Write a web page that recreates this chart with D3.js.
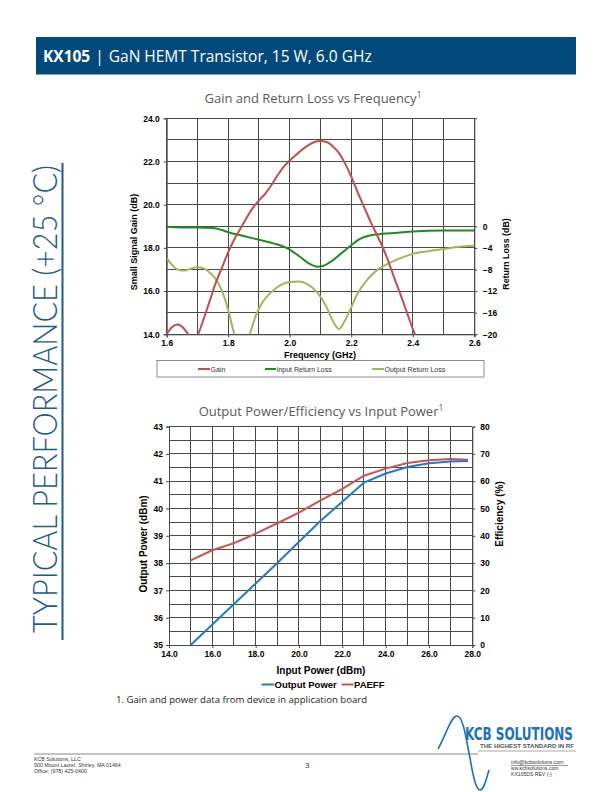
<!DOCTYPE html>
<html><head><meta charset="utf-8">
<script src="https://cdn.jsdelivr.net/npm/d3@7"></script>
<style>body{margin:0;background:#fff}svg{display:block}</style>
</head><body><svg id="c" width="612" height="792"></svg>
<script>
// ---------- Chart 1 data ----------
const gainFreq = [1.60,1.615,1.635,1.65,1.67,1.685,1.70,1.72,1.74,1.76,1.78,1.80,1.82,1.84,1.86,1.88,1.90,1.92,1.94,1.96,1.98,2.00,2.02,2.04,2.06,2.08,2.10,2.12,2.14,2.16,2.18,2.20,2.22,2.24,2.26,2.28,2.30,2.32,2.34,2.36,2.38,2.40,2.41];
const gainDb   = [14.0,14.3,14.45,14.35,14.0,13.7,13.95,14.7,15.55,16.4,17.1,17.8,18.4,18.9,19.4,19.85,20.2,20.5,20.9,21.35,21.75,22.05,22.3,22.55,22.75,22.9,22.95,22.9,22.7,22.4,21.9,21.3,20.6,19.95,19.3,18.7,18.1,17.4,16.6,15.85,15.05,14.25,13.9];
const irlFreq = [1.60,1.65,1.70,1.75,1.78,1.80,1.85,1.90,1.95,2.00,2.03,2.06,2.09,2.11,2.14,2.17,2.20,2.23,2.26,2.30,2.35,2.40,2.50,2.60];
const irlDb   = [-0.1,-0.2,-0.2,-0.3,-0.7,-1.1,-1.8,-2.5,-3.2,-4.3,-5.5,-6.8,-7.5,-7.3,-6.3,-4.9,-3.5,-2.3,-1.7,-1.4,-1.2,-0.95,-0.8,-0.8];
const orlFreq = [1.60,1.62,1.64,1.66,1.68,1.70,1.72,1.74,1.76,1.78,1.80,1.82,1.845,1.87,1.89,1.91,1.94,1.97,2.00,2.03,2.06,2.09,2.12,2.14,2.16,2.18,2.20,2.22,2.25,2.28,2.32,2.36,2.40,2.45,2.50,2.55,2.60];
const orlDb   = [-5.9,-7.3,-8.1,-8.2,-7.8,-7.6,-7.8,-8.6,-9.8,-12.0,-15.5,-20.0,-24.0,-20.0,-16.5,-14.2,-12.2,-10.9,-10.3,-10.2,-10.8,-12.3,-15.0,-17.5,-19.0,-17.4,-15.0,-12.5,-10.0,-8.3,-6.9,-5.9,-5.1,-4.6,-4.2,-3.8,-3.6];
const freqTicks = [1.6,1.8,2.0,2.2,2.4,2.6];
const gainTicks = [14,16,18,20,22,24];
const rlTicks = [-20,-16,-12,-8,-4,0];
const legend1 = ["Gain","Input Return Loss","Output Return Loss"];

// ---------- Chart 2 data ----------
const pin  = [15,16,17,17.5,18,19,20,21,22,23,24,25,26,27,27.8];
const pout = [35.0,35.75,36.5,36.88,37.25,38.0,38.78,39.55,40.25,40.95,41.28,41.52,41.66,41.72,41.74];
const pae  = [31.0,34.7,37.3,39.0,40.8,44.6,48.5,53.0,57.2,62.0,64.6,66.7,67.7,68.1,67.9];
const pinTicks = [14,16,18,20,22,24,26,28];
const poutTicks = [35,36,37,38,39,40,41,42,43];
const effTicks = [0,10,20,30,40,50,60,70,80];
const legend2 = ["Output Power","PAEFF"];

const svg = d3.select("#c");
const GRID = "#4a4a4a";
const AR = "Arial, 'Liberation Sans', sans-serif";
const CAL = "'Open Sans', sans-serif";

// ---------- Header ----------
svg.append("rect").attr("x",36).attr("y",37).attr("width",540).attr("height",37.5).attr("fill","#03497c");
const ht = svg.append("text").attr("x",43).attr("y",61.5).attr("fill","#fff").attr("font-family",CAL).attr("font-size",15.5);
ht.append("tspan").attr("font-weight","bold").text("KX105");
ht.append("tspan").attr("dx",5).text("|");
ht.append("tspan").attr("dx",5).text("GaN HEMT Transistor, 15 W, 6.0 GHz");

// ---------- Side title ----------
svg.append("text").attr("transform","translate(57,633) rotate(-90)")
  .attr("font-family","Lato, 'Open Sans', sans-serif").attr("font-weight",300).attr("font-size",33)
  .attr("fill","#1f5a8e").attr("textLength",468).attr("lengthAdjust","spacingAndGlyphs")
  .text("TYPICAL PERFORMANCE (+25 °C)");
svg.append("line").attr("x1",62.5).attr("x2",62.5).attr("y1",163).attr("y2",640).attr("stroke","#1f5a8e").attr("stroke-width",2);

function title(x, y, txt){
  const t = svg.append("text").attr("x",x).attr("y",y).attr("text-anchor","middle")
    .attr("font-family",CAL).attr("font-size",13).attr("fill","#595959");
  t.append("tspan").text(txt);
  t.append("tspan").attr("font-size",8.5).attr("dy",-5).text("1");
}

function gridAndFrame(x, y, xs, ys){
  const g = svg.append("g");
  const [x0,x1] = x.range(), [y0,y1] = y.range();
  g.append("rect").attr("x",x0).attr("y",y1).attr("width",x1-x0).attr("height",y0-y1).attr("fill","#fff");
  g.selectAll(".vx").data(xs).join("line").attr("x1",d=>x(d)).attr("x2",d=>x(d)).attr("y1",y0).attr("y2",y1)
    .attr("stroke",GRID).attr("stroke-width",1).attr("shape-rendering","crispEdges");
  g.selectAll(".hy").data(ys).join("line").attr("y1",d=>y(d)).attr("y2",d=>y(d)).attr("x1",x0).attr("x2",x1)
    .attr("stroke",GRID).attr("stroke-width",1).attr("shape-rendering","crispEdges");
  return g;
}

function styleAxis(g, size){
  g.selectAll("text").attr("font-family",AR).attr("font-weight","bold").attr("font-size",size).attr("fill","#000");
  g.select(".domain").attr("stroke",GRID);
  g.selectAll(".tick line").attr("stroke",GRID);
}

// ---------- Chart 1 ----------
title(313, 103, "Gain and Return Loss vs Frequency");
const x1 = d3.scaleLinear([1.6,2.6],[166.7,474.3]);
const y1 = d3.scaleLinear([14,24],[334.3,118.3]);
const y1r = d3.scaleLinear([-20,20],[334.3,118.3]);
gridAndFrame(x1, y1, d3.range(0,11).map(i=>1.6+i*0.1), d3.range(14,25));

svg.append("g").attr("transform",`translate(0,${y1(14)})`)
  .call(d3.axisBottom(x1).tickValues(freqTicks).tickFormat(d3.format(".1f")).tickSize(3).tickPadding(3))
  .call(g=>styleAxis(g,8.5));
svg.append("g").attr("transform",`translate(${x1(1.6)},0)`)
  .call(d3.axisLeft(y1).tickValues(gainTicks).tickFormat(d3.format(".1f")).tickSize(3).tickPadding(4))
  .call(g=>styleAxis(g,8.5));
svg.append("g").attr("transform",`translate(${x1(2.6)},0)`)
  .call(d3.axisRight(y1r).tickValues(rlTicks).tickFormat(d3.format("d")).tickSize(3).tickPadding(5))
  .call(g=>styleAxis(g,8.5))
  .call(g=>g.selectAll(".tick text").attr("x",8.5).attr("text-anchor","start"));

svg.append("text").attr("x",320).attr("y",357.5).attr("text-anchor","middle")
  .attr("font-family",AR).attr("font-weight","bold").attr("font-size",9).text("Frequency (GHz)");
svg.append("text").attr("transform",`translate(137,242) rotate(-90)`).attr("text-anchor","middle")
  .attr("font-family",AR).attr("font-weight","bold").attr("font-size",9).text("Small Signal Gain (dB)");
svg.append("text").attr("transform",`translate(509,254) rotate(-90)`).attr("text-anchor","middle")
  .attr("font-family",AR).attr("font-weight","bold").attr("font-size",8.8).text("Return Loss (dB)");

svg.append("clipPath").attr("id","clip1").append("rect")
  .attr("x",x1(1.6)).attr("y",y1(24)).attr("width",x1(2.6)-x1(1.6)).attr("height",y1(14)-y1(24));
const c1 = svg.append("g").attr("clip-path","url(#clip1)");
const COL_GAIN = "#c0504d", COL_IRL = "#1f8a24", COL_ORL = "#9bbb59";
const line1 = (xs, ys, yS) => d3.line().x((d,i)=>x1(xs[i])).y((d,i)=>yS(ys[i])).curve(d3.curveMonotoneX)(ys);
c1.append("path").attr("d",line1(orlFreq,orlDb,y1r)).attr("fill","none").attr("stroke",COL_ORL).attr("stroke-width",2);
c1.append("path").attr("d",line1(irlFreq,irlDb,y1r)).attr("fill","none").attr("stroke",COL_IRL).attr("stroke-width",2);
c1.append("path").attr("d",line1(gainFreq,gainDb,y1)).attr("fill","none").attr("stroke",COL_GAIN).attr("stroke-width",2);

// legend 1
svg.append("rect").attr("x",157).attr("y",360.5).attr("width",327).attr("height",16.5)
  .attr("fill","#fff").attr("stroke","#8c8c8c").attr("stroke-width",1);
const lg1 = [{x:198,w:12,c:COL_GAIN},{x:265,w:11,c:COL_IRL},{x:372,w:12,c:COL_ORL}];
legend1.forEach((t,i)=>{
  const L = lg1[i];
  svg.append("line").attr("x1",L.x).attr("x2",L.x+L.w).attr("y1",369).attr("y2",369).attr("stroke",L.c).attr("stroke-width",2);
  svg.append("text").attr("x",L.x+L.w+0.5).attr("y",371.5).attr("font-family",AR).attr("font-size",7).attr("fill","#333").text(t);
});

// ---------- Chart 2 ----------
title(321, 416, "Output Power/Efficiency vs Input Power");
const x2 = d3.scaleLinear([14,28],[169,472.3]);
const y2 = d3.scaleLinear([35,43],[645,426.6]);
const y2r = d3.scaleLinear([0,80],[645,426.6]);
gridAndFrame(x2, y2, d3.range(14,29), d3.range(0,17).map(i=>35+i*0.5));

svg.append("g").attr("transform",`translate(0,${y2(35)})`)
  .call(d3.axisBottom(x2).tickValues(pinTicks).tickFormat(d3.format(".1f")).tickSize(3).tickPadding(3))
  .call(g=>styleAxis(g,8.5));
svg.append("g").attr("transform",`translate(${x2(14)},0)`)
  .call(d3.axisLeft(y2).tickValues(poutTicks).tickFormat(d3.format("d")).tickSize(3).tickPadding(3))
  .call(g=>styleAxis(g,8.5));
svg.append("g").attr("transform",`translate(${x2(28)},0)`)
  .call(d3.axisRight(y2r).tickValues(effTicks).tickFormat(d3.format("d")).tickSize(3).tickPadding(5))
  .call(g=>styleAxis(g,8.5))
  .call(g=>g.selectAll(".tick text").attr("x",8).attr("text-anchor","start"));

svg.append("text").attr("x",321).attr("y",674).attr("text-anchor","middle")
  .attr("font-family",AR).attr("font-weight","bold").attr("font-size",10).text("Input Power (dBm)");
svg.append("text").attr("transform",`translate(146.5,544) rotate(-90)`).attr("text-anchor","middle")
  .attr("font-family",AR).attr("font-weight","bold").attr("font-size",10).text("Output Power (dBm)");
svg.append("text").attr("transform",`translate(503,514) rotate(-90)`).attr("text-anchor","middle")
  .attr("font-family",AR).attr("font-weight","bold").attr("font-size",10).text("Efficiency (%)");

const COL_POUT = "#1f7acb", COL_PAE = "#c9544f";
const line2 = (ys, yS) => d3.line().x((d,i)=>x2(pin[i])).y(d=>yS(d))(ys);
svg.append("path").attr("d",line2(pae,y2r)).attr("fill","none").attr("stroke",COL_PAE).attr("stroke-width",2);
svg.append("path").attr("d",line2(pout,y2)).attr("fill","none").attr("stroke",COL_POUT).attr("stroke-width",2);

const lg2 = [{x:261.5,w:12.5,c:COL_POUT},{x:341.5,w:12,c:COL_PAE}];
legend2.forEach((t,i)=>{
  const L = lg2[i];
  svg.append("line").attr("x1",L.x).attr("x2",L.x+L.w).attr("y1",684.5).attr("y2",684.5).attr("stroke",L.c).attr("stroke-width",2);
  svg.append("text").attr("x",L.x+L.w+0.5).attr("y",688).attr("font-family",AR).attr("font-weight","bold").attr("font-size",9.5).text(t);
});

// ---------- Footnote ----------
svg.append("text").attr("x",116).attr("y",703).attr("font-family",CAL).attr("font-size",9.6).attr("fill","#222")
  .text("1. Gain and power data from device in application board");

// ---------- Footer ----------
svg.append("line").attr("x1",34).attr("x2",478).attr("y1",754).attr("y2",754).attr("stroke","#c4c4c4").attr("stroke-width",1.8);
svg.append("line").attr("x1",478).attr("x2",576).attr("y1",751).attr("y2",751).attr("stroke","#c4c4c4").attr("stroke-width",1.5);
svg.append("path").attr("d","M438,749 C446,735 451,716 457,716 C463,716 466,738 470,758 C473,776 476,790 480,790 C484,790 486,780 489,770")
  .attr("fill","none").attr("stroke","#1d72bb").attr("stroke-width",1.6);
svg.append("text").attr("x",465).attr("y",740).attr("font-family","'DejaVu Sans Condensed','DejaVu Sans',sans-serif")
  .attr("font-weight","bold").attr("font-size",17.5).attr("fill","#1d72bb").attr("textLength",108).attr("lengthAdjust","spacingAndGlyphs").text("KCB SOLUTIONS");
svg.append("text").attr("x",480).attr("y",748).attr("font-family",AR).attr("font-weight","bold").attr("font-size",5.6)
  .attr("fill","#555").attr("textLength",94).attr("lengthAdjust","spacingAndGlyphs").text("THE HIGHEST STANDARD IN RF");

const fl = ["KCB Solutions, LLC","900 Mount Laurel, Shirley, MA 01464","Office: (978) 425-0400"];
fl.forEach((t,i)=>svg.append("text").attr("x",34).attr("y",761+i*5.8).attr("font-family",AR).attr("font-size",5.3).attr("fill","#333").text(t));
svg.append("text").attr("x",305).attr("y",768).attr("font-family",CAL).attr("font-size",8).attr("fill","#222").text("3");
const fr = ["info@kcbsolutions.com","ww.kcbsolutions.com","KX105DS REV (-)"];
fr.forEach((t,i)=>svg.append("text").attr("x",511).attr("y",764+i*6).attr("font-family",AR).attr("font-size",5.1).attr("fill","#333").text(t));
svg.append("line").attr("x1",511).attr("x2",568).attr("y1",765.5).attr("y2",765.5).attr("stroke","#333").attr("stroke-width",0.5);
</script></body></html>
